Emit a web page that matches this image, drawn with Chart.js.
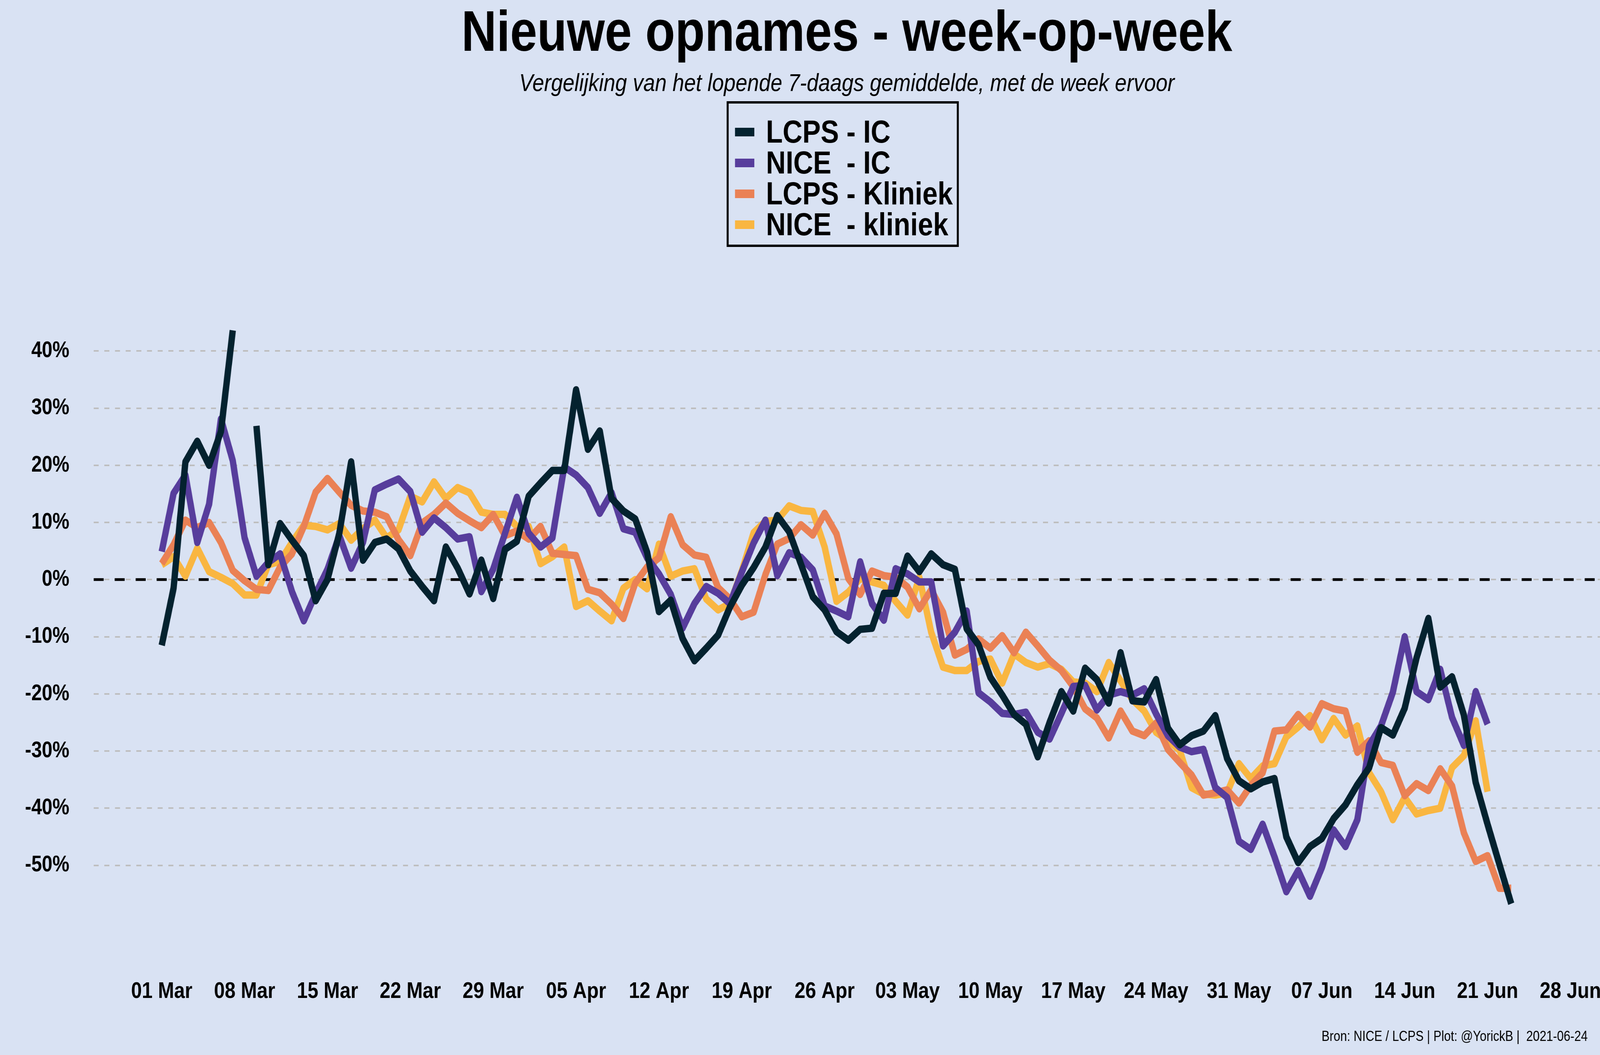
<!DOCTYPE html>
<html lang="nl">
<head>
<meta charset="utf-8">
<title>Nieuwe opnames - week-op-week</title>
<script src="https://cdn.jsdelivr.net/npm/chart.js@4.4.1/dist/chart.umd.min.js"></script>
<style>
  html,body{margin:0;padding:0;background:#d9e2f3;overflow:hidden;}
  canvas{display:block;}
</style>
</head>
<body>
<canvas id="chart" width="4800" height="2700" style="width:100vw;height:100vh"></canvas>
<script>
// ---- data (one value per day, starting 01 Mar 2021) ----
const weekLabels = ['01 Mar','08 Mar','15 Mar','22 Mar','29 Mar','05 Apr','12 Apr','19 Apr','26 Apr',
  '03 May','10 May','17 May','24 May','31 May','07 Jun','14 Jun','21 Jun','28 Jun'];
const yTicks = [-50,-40,-30,-20,-10,0,10,20,30,40];
const seriesLabels = ['LCPS - IC','NICE  - IC','LCPS - Kliniek','NICE  - kliniek'];
const seriesColors = ['#04222f','#573d9c','#ea8155','#f9b641'];

const lcpsIc = [
  -11.5,-1.5,20.6,24.2,20.0,25.9,43.6,null,26.9,2.6,
  9.8,6.9,4.2,-3.7,0.0,8.1,20.6,3.4,6.5,7.1,
  5.4,1.5,-1.2,-3.7,5.7,2.0,-2.5,3.4,-3.3,5.3,
  6.7,14.6,16.9,19.1,19.1,33.2,22.8,26.0,14.2,12.0,
  10.6,4.8,-5.6,-3.6,-10.3,-14.2,-12.0,-9.7,-4.8,-1.0,
  2.1,5.7,11.2,8.4,2.7,-3.0,-5.3,-9.1,-10.6,-8.7,
  -8.5,-2.4,-2.4,4.1,1.4,4.5,2.6,1.8,-8.6,-11.4,
  -17.1,-20.2,-23.6,-25.3,-31.0,-25.0,-19.6,-23.0,-15.5,-17.5,
  -21.6,-12.8,-21.2,-21.4,-17.5,-26.0,-28.9,-27.3,-26.5,-23.8,
  -31.3,-35.2,-36.6,-35.4,-34.8,-45.0,-49.5,-46.7,-45.3,-41.8,
  -39.4,-35.9,-32.9,-25.9,-27.2,-22.5,-13.7,-6.8,-18.8,-17.0,
  -23.7,-35.5,-42.8,-49.8,-56.7
];
const niceIc = [
  4.9,15.1,18.3,6.5,13.2,28.1,20.8,7.3,0.6,3.0,
  4.5,-2.1,-7.2,-2.5,1.8,7.7,2.0,6.5,15.7,16.7,
  17.6,15.4,8.3,10.8,9.1,7.1,7.5,-2.1,1.8,8.1,
  14.4,8.1,5.7,7.3,19.7,18.3,16.1,11.6,15.2,8.9,
  8.3,3.8,1.0,-2.6,-8.5,-4.2,-1.2,-2.4,-4.2,1.3,
  6.4,10.4,0.7,4.7,3.9,1.7,-4.6,-5.5,-6.5,3.1,
  -4.2,-7.1,1.9,1.0,-0.4,-0.4,-11.6,-9.2,-5.5,-19.8,
  -21.4,-23.4,-23.6,-23.2,-26.7,-27.9,-23.4,-18.7,-18.5,-22.8,
  -20.2,-19.6,-20.2,-19.1,-23.5,-27.3,-29.3,-30.1,-29.7,-36.4,
  -38.1,-45.8,-47.2,-42.8,-48.5,-54.6,-50.9,-55.4,-50.4,-43.8,
  -46.7,-42.0,-29.0,-25.6,-19.7,-10.0,-19.6,-21.0,-15.7,-24.1,
  -29.0,-19.6,-25.3
];
const lcpsKliniek = [
  2.8,6.1,10.4,9.1,10.0,6.5,1.6,-0.2,-1.7,-1.9,
  2.2,4.5,9.3,15.3,17.7,15.3,13.0,12.0,11.8,11.0,
  7.0,4.2,9.9,11.4,13.4,11.6,10.3,9.1,11.4,7.7,
  8.5,7.1,9.3,4.6,4.4,4.2,-1.7,-2.3,-4.3,-6.8,
  -0.6,2.2,3.8,11.0,6.1,4.3,3.9,-1.4,-3.4,-6.5,
  -5.7,0.9,6.2,7.2,9.6,7.8,11.6,8.0,0.2,-2.6,
  1.5,0.7,0.4,-1.3,-5.1,-1.8,-5.7,-13.2,-12.2,-10.4,
  -12.0,-9.8,-12.8,-9.2,-11.6,-14.1,-15.9,-18.7,-22.6,-24.2,
  -27.7,-23.0,-26.5,-27.3,-25.1,-29.7,-32.0,-34.2,-37.7,-37.3,
  -36.8,-39.1,-36.0,-33.8,-26.5,-26.3,-23.6,-25.8,-21.7,-22.6,
  -23.0,-30.2,-28.2,-32.0,-32.5,-37.8,-35.7,-36.9,-33.1,-36.1,
  -44.3,-49.3,-48.3,-54.0,-54.0
];
const niceKliniek = [
  2.6,4.0,0.6,5.5,1.4,0.4,-0.7,-2.7,-2.7,2.6,
  3.2,6.5,9.5,9.3,8.7,9.8,6.9,8.9,10.4,7.3,
  8.7,14.6,13.6,17.1,14.2,16.1,15.2,11.8,11.4,11.4,
  9.3,9.3,2.8,4.0,5.7,-4.7,-3.7,-5.5,-7.2,-1.5,
  0.0,-1.6,6.2,0.6,1.5,1.9,-3.4,-5.3,-4.2,1.5,
  8.2,10.2,10.4,12.9,12.1,11.9,5.7,-3.8,-2.2,0.2,
  -0.4,-1.0,-3.8,-6.2,0.4,-9.2,-15.3,-15.9,-15.9,-14.3,
  -13.9,-18.1,-13.0,-14.5,-15.3,-14.7,-15.7,-17.9,-18.1,-19.6,
  -14.5,-17.7,-21.0,-23.0,-26.7,-28.1,-29.9,-36.4,-37.5,-37.7,
  -37.3,-32.2,-34.8,-32.6,-32.2,-27.5,-25.8,-23.8,-28.0,-24.3,
  -27.2,-25.6,-33.8,-37.1,-42.0,-38.1,-41.0,-40.4,-40.0,-32.9,
  -30.8,-24.7,-37.1
];

const titleText = 'Nieuwe opnames - week-op-week';
const subtitleText = 'Vergelijking van het lopende 7-daags gemiddelde, met de week ervoor';
const footerText = 'Bron: NICE / LCPS | Plot: @YorickB |  2021-06-24';

(function(){
  const FONT = "'Liberation Sans', Arial, sans-serif";
  const BG = '#d9e2f3';

  const toPoints = arr => arr.map((v,i)=>({x:i, y:v}));
  const allSeries = [lcpsIc, niceIc, lcpsKliniek, niceKliniek];

  // ---- plugins ----
  const background = {
    id:'background',
    beforeDraw(chart){
      const c = chart.ctx;
      c.save();
      c.fillStyle = BG;
      c.fillRect(0,0,chart.width,chart.height);
      c.restore();
    }
  };

  // dashed black reference line at 0%
  const zeroLine = {
    id:'zeroLine',
    beforeDatasetsDraw(chart){
      const {ctx, chartArea, scales} = chart;
      const y0 = scales.y.getPixelForValue(0);
      ctx.save();
      ctx.strokeStyle = '#000';
      ctx.lineWidth = 7;
      ctx.setLineDash([30,33]);
      ctx.beginPath();
      ctx.moveTo(chartArea.left, y0);
      ctx.lineTo(chartArea.right, y0);
      ctx.stroke();
      ctx.restore();
    }
  };

  // boxed legend, one row per series, roughly centred above the plot
  const boxLegend = {
    id:'boxLegend',
    afterDraw(chart){
      const {ctx, chartArea} = chart;
      const sets = chart.data.datasets;
      ctx.save();
      ctx.font = 'bold 82px ' + FONT;
      const textW = Math.max(...sets.map(d=>ctx.measureText(d.label).width));
      const keyW = 58, keyH = 22, padL = 22, gap = 35, padR = 15, rowH = 79;
      const boxW = padL + keyW + gap + textW + padR;
      const cx = (chartArea.left + chartArea.right)/2 - 12;
      const left = Math.round(cx - boxW/2);
      const top = 262;
      const firstRow = top + 76;
      const boxH = 76 + rowH*(sets.length-1) + 54;

      ctx.textBaseline = 'middle';
      ctx.textAlign = 'left';
      sets.forEach((d,i)=>{
        const y = firstRow + i*rowH;
        ctx.fillStyle = d.borderColor;
        ctx.fillRect(left + padL, y - keyH/2, keyW, keyH);
        ctx.fillStyle = '#000';
        ctx.fillText(d.label, left + padL + keyW + gap, y + 4);
      });
      ctx.lineWidth = 6;
      ctx.strokeStyle = '#000';
      ctx.strokeRect(left, top, boxW, boxH);
      ctx.restore();
    }
  };

  const footer = {
    id:'footer',
    afterDraw(chart){
      const c = chart.ctx;
      c.save();
      c.font = '36px ' + FONT;
      c.fillStyle = '#000';
      c.textAlign = 'right';
      c.textBaseline = 'alphabetic';
      c.fillText(footerText, chart.width - 37, chart.height - 36);
      c.restore();
    }
  };

  // ---- chart ----
  new Chart(document.getElementById('chart'), {
    type:'line',
    data:{
      datasets: allSeries.map((arr,i)=>({
        label: seriesLabels[i],
        data: toPoints(arr),
        borderColor: seriesColors[i],
        backgroundColor: seriesColors[i],
        borderWidth: 19,
        borderJoinStyle: 'round',
        borderCapStyle: 'butt',
        pointRadius: 0,
        pointHoverRadius: 0,
        tension: 0,
        spanGaps: false,
        fill: false
      }))
    },
    options:{
      responsive:false,
      devicePixelRatio:1,
      animation:false,
      events:[],
      layout:{padding:{top:0, left:0, right:0, bottom:127}},
      plugins:{
        legend:{display:false},
        tooltip:{enabled:false},
        title:{
          display:true, text:titleText, color:'#000', fullSize:false,
          font:{family:FONT, size:146, weight:'bold'},
          padding:{top:2, bottom:0}
        },
        subtitle:{
          display:true, text:subtitleText, color:'#000', fullSize:false,
          font:{family:FONT, size:63, style:'italic'},
          padding:{top:0, bottom:524}
        }
      },
      scales:{
        x:{
          type:'linear', min:-5.75, max:121.5,
          grid:{display:false, drawTicks:false},
          border:{display:false},
          afterBuildTicks(scale){ scale.ticks = weekLabels.map((l,i)=>({value:i*7})); },
          afterFit(scale){ scale.paddingLeft = 0; scale.paddingRight = 0; scale.height = 190; },
          ticks:{
            autoSkip:false, maxRotation:0, padding:120, color:'#000',
            font:{family:FONT, size:58, weight:'bold'},
            callback:(v)=> weekLabels[Math.round(v/7)]
          }
        },
        y:{
          type:'linear', min:-61.5, max:48.3,
          grid:{color:'#bebebe', lineWidth:4, drawTicks:false},
          border:{display:false, dash:[15,17]},
          afterBuildTicks(scale){ scale.ticks = yTicks.map(v=>({value:v})); },
          afterFit(scale){ scale.width = 281; },
          ticks:{
            padding:73, color:'#000',
            font:{family:FONT, size:57, weight:'bold'},
            callback:(v)=> v + '%'
          }
        }
      }
    },
    plugins:[background, zeroLine, boxLegend, footer]
  });
})();
</script>
</body>
</html>
